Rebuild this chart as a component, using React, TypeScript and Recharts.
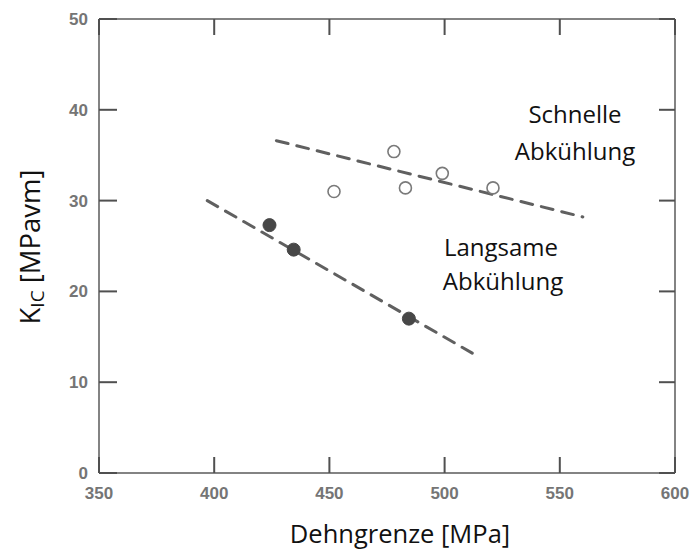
import React from "react";
import { ComposedChart, Scatter, XAxis, YAxis } from "recharts";

const xTicks = [350, 400, 450, 500, 550, 600];
const yTicks = [0, 10, 20, 30, 40, 50];

// Schnelle Abkühlung (open circles)
const schnelleX = [452, 478, 483, 499, 521];
const schnelleY = [31.0, 35.4, 31.4, 33.0, 31.4];
// Langsame Abkühlung (filled circles)
const langsameX = [424, 434.5, 484.5];
const langsameY = [27.3, 24.6, 17.0];
// dashed trend lines
const schnelleFitX = [427, 560];
const schnelleFitY = [36.6, 28.2];
const langsameFitX = [397, 512];
const langsameFitY = [30.0, 13.2];

const zip = (xs: number[], ys: number[]) => xs.map((x, i) => ({ x, y: ys[i] }));
const schnelleData = zip(schnelleX, schnelleY);
const langsameData = zip(langsameX, langsameY);
const schnelleFit = zip(schnelleFitX, schnelleFitY);
const langsameFit = zip(langsameFitX, langsameFitY);

const FRAME = "#5a5a5a";
const TICKLINE = "rgb(80,80,80)";
const TICKCOL = "#757575";
const tickFont = "'Liberation Sans', Arial, sans-serif";
const textFont = "'Open Sans', 'Noto Sans', sans-serif";

const BottomTick = (props: any) => {
  const { x, y, payload } = props;
  return (
    <g>
      <rect x={x - 1} y={y - 16} width={2} height={16} fill={TICKLINE} />
      <text x={x} y={y + 26} textAnchor="middle" fontFamily={tickFont} fontWeight={700} fontSize={17} fill={TICKCOL}>
        {payload.value}
      </text>
    </g>
  );
};

const LeftTick = (props: any) => {
  const { x, y, payload } = props;
  return (
    <g>
      <rect x={x} y={y - 1} width={18} height={2} fill={TICKLINE} />
      <text x={x - 11} y={y + 6} textAnchor="end" fontFamily={tickFont} fontWeight={700} fontSize={17} fill={TICKCOL}>
        {payload.value}
      </text>
    </g>
  );
};

const TopTick = (props: any) => {
  const { x, y } = props;
  return <rect x={x - 1} y={y} width={2} height={16} fill={TICKLINE} />;
};

const RightTick = (props: any) => {
  const { x, y } = props;
  return <rect x={x - 16} y={y - 1} width={16} height={2} fill={TICKLINE} />;
};

const OpenDot = (p: any) => <circle cx={p.cx} cy={p.cy} r={6} fill="#fff" stroke="#7a7a7a" strokeWidth={1.6} />;
const FilledDot = (p: any) => <circle cx={p.cx} cy={p.cy} r={6.5} fill="#474747" stroke="#474747" strokeWidth={1} />;
const NoDot = () => <g />;

const lineStyle = { stroke: "#606060", strokeWidth: 3, strokeDasharray: "12 9", strokeLinecap: "round" };

export default function App() {
  return (
    <div style={{ position: "absolute", left: 0, top: 0, width: 692, height: 550, background: "#fff" }}>
      <ComposedChart width={692} height={550} margin={{ top: 18, right: 16, bottom: 47, left: 39 }}>
        <XAxis
          xAxisId="b"
          type="number"
          dataKey="x"
          domain={[350, 600]}
          ticks={xTicks}
          interval={0}
          height={30}
          tickSize={0}
          tickMargin={0}
          tickLine={false}
          axisLine={{ stroke: FRAME, strokeWidth: 1.5 }}
          tick={<BottomTick />}
        />
        <XAxis
          xAxisId="t"
          orientation="top"
          type="number"
          dataKey="x"
          domain={[350, 600]}
          ticks={xTicks}
          interval={0}
          height={1}
          tickSize={0}
          tickMargin={0}
          tickLine={false}
          axisLine={{ stroke: FRAME, strokeWidth: 1.5 }}
          tick={<TopTick />}
        />
        <YAxis
          yAxisId="l"
          type="number"
          dataKey="y"
          domain={[0, 50]}
          ticks={yTicks}
          interval={0}
          width={60}
          tickSize={0}
          tickMargin={0}
          tickLine={false}
          axisLine={{ stroke: FRAME, strokeWidth: 1.5 }}
          tick={<LeftTick />}
        />
        <YAxis
          yAxisId="r"
          orientation="right"
          type="number"
          dataKey="y"
          domain={[0, 50]}
          ticks={yTicks}
          interval={0}
          width={1}
          tickSize={0}
          tickMargin={0}
          tickLine={false}
          axisLine={{ stroke: FRAME, strokeWidth: 1.5 }}
          tick={<RightTick />}
        />
        <Scatter xAxisId="t" yAxisId="r" data={schnelleFit} line={lineStyle} shape={<NoDot />} isAnimationActive={false} />
        <Scatter xAxisId="t" yAxisId="r" data={langsameFit} line={lineStyle} shape={<NoDot />} isAnimationActive={false} />
        <Scatter xAxisId="b" yAxisId="l" data={schnelleData} shape={<OpenDot />} isAnimationActive={false} />
        <Scatter xAxisId="b" yAxisId="l" data={langsameData} shape={<FilledDot />} isAnimationActive={false} />
      </ComposedChart>
      <svg width={692} height={550} style={{ position: "absolute", left: 0, top: 0, pointerEvents: "none" }}>
        <g fontFamily={textFont} fontSize={24} fill="#111">
          <text x={575} y={123} textAnchor="middle">Schnelle</text>
          <text x={575} y={160} textAnchor="middle">Abkühlung</text>
          <text x={501} y={256} textAnchor="middle">Langsame</text>
          <text x={503} y={290} textAnchor="middle">Abkühlung</text>
          <text x={400} y={543} textAnchor="middle" fontSize={25.5}>Dehngrenze  [MPa]</text>
          <text transform="translate(40,247) rotate(-90)" textAnchor="middle" fontSize={27.5}>
            K<tspan fontSize={19} dy={4}>IC</tspan>
            <tspan dy={-4}> [MPavm]</tspan>
          </text>
        </g>
      </svg>
    </div>
  );
}
